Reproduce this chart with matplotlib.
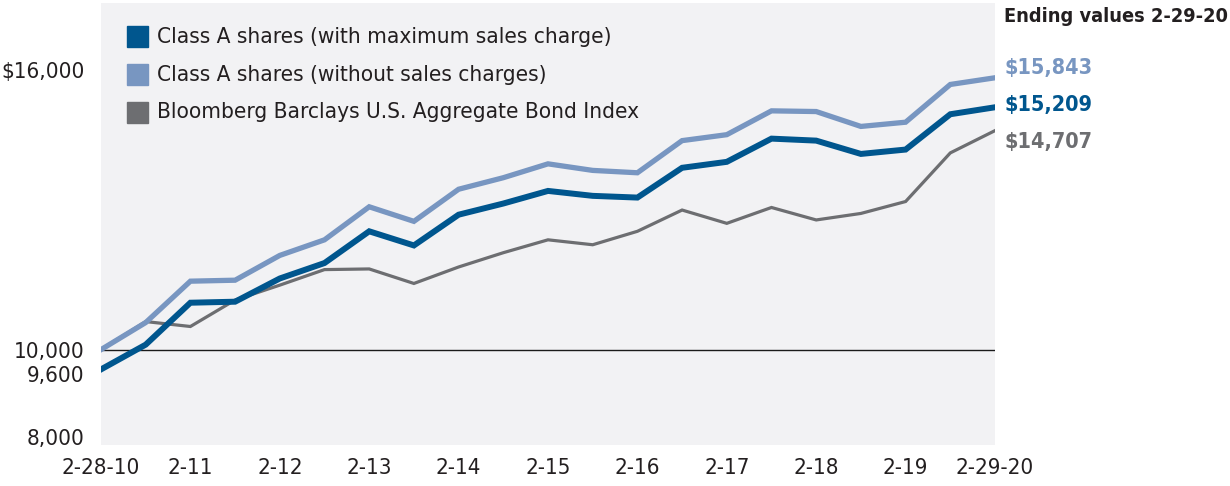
import numpy as np
import matplotlib.pyplot as plt
import matplotlib.transforms as mtransforms

plt.rcParams['font.family'] = ['DejaVu Sans']
plt.rcParams['font.stretch'] = 'condensed'

# semiannual points, 2-28-10 .. 2-29-20
tick_labels = ["2-28-10", "2-11", "2-12", "2-13", "2-14", "2-15",
               "2-16", "2-17", "2-18", "2-19", "2-29-20"]

with_charge = [9575, 10107, 11008, 11030, 11529, 11861, 12543, 12239, 12900, 13140, 13411,
               13305, 13268, 13908, 14036, 14535, 14492, 14206, 14300, 15059, 15209]
without_charge = [10000, 10582, 11471, 11492, 12025, 12360, 13070, 12757, 13447, 13695, 13993,
                  13852, 13801, 14492, 14620, 15132, 15117, 14797, 14888, 15699, 15843]
bond_index = [10000, 10603, 10497, 11066, 11386, 11720, 11734, 11422, 11776, 12083, 12360,
              12254, 12543, 13000, 12714, 13055, 12787, 12927, 13183, 14228, 14707]

names = ["Class A shares (with maximum sales charge)",
         "Class A shares (without sales charges)",
         "Bloomberg Barclays U.S. Aggregate Bond Index"]
ending = ["$15,209", "$15,843", "$14,707"]

dark_blue = "#00568E"
light_blue = "#7896C1"
grey = "#6D6E71"

fig = plt.figure(figsize=(12.3, 4.86), dpi=100)
ax = fig.add_axes([101 / 1230, 41 / 486, 894 / 1230, 442 / 486])
ax.set_facecolor("#F2F2F4")

x = np.arange(len(with_charge))
ax.axhline(10000, color="#1a1a1a", lw=1.0, zorder=1)
ax.plot(x, bond_index, color=grey, lw=2.3, solid_joinstyle="miter", zorder=2)
ax.plot(x, without_charge, color=light_blue, lw=3.8, solid_joinstyle="miter", zorder=3)
ax.plot(x, with_charge, color=dark_blue, lw=4.3, solid_joinstyle="miter", zorder=4)

ax.set_xlim(0, 20)
ax.set_ylim(7950, 17450)
for s in ax.spines.values():
    s.set_visible(False)

ax.set_xticks(x[::2])
ax.set_xticklabels(tick_labels)
ax.set_yticks([8000, 9600, 10000, 16000])
ax.set_yticklabels(["8,000", "9,600", "10,000", "$16,000"])
ax.tick_params(length=0, labelsize=16, colors="#231F20")
ax.tick_params(axis="y", pad=12)
ax.tick_params(axis="x", pad=9)
# nudge 9,600 down so it clears 10,000, and 8,000 up a touch
ylabs = ax.get_yticklabels()
for lab, dy in [(ylabs[1], -6), (ylabs[0], 6)]:
    lab.set_transform(lab.get_transform() + mtransforms.ScaledTranslation(0, dy / 100, fig.dpi_scale_trans))

# legend squares and text
leg_colors = [dark_blue, light_blue, grey]
leg_y = [449, 411, 374]
for c, n, yy in zip(leg_colors, names, leg_y):
    fig.patches.append(plt.Rectangle((127 / 1230, (yy - 10.5) / 486), 21 / 1230, 21 / 486,
                                     transform=fig.transFigure, color=c))
    fig.text(157 / 1230, yy / 486, n, fontsize=16.2, va="center", ha="left", color="#231F20")

# ending values
fig.text(1004 / 1230, 469 / 486, "Ending values 2-29-20", fontsize=14.3, fontweight="bold",
         va="center", ha="left", color="#231F20")
end_colors = [dark_blue, light_blue, grey]
end_y = [381, 418, 344]
for t, c, yy in zip(ending, end_colors, end_y):
    fig.text(1004 / 1230, yy / 486, t, fontsize=15.5, fontweight="bold", va="center",
             ha="left", color=c)

fig.savefig("out.png", dpi=100)
